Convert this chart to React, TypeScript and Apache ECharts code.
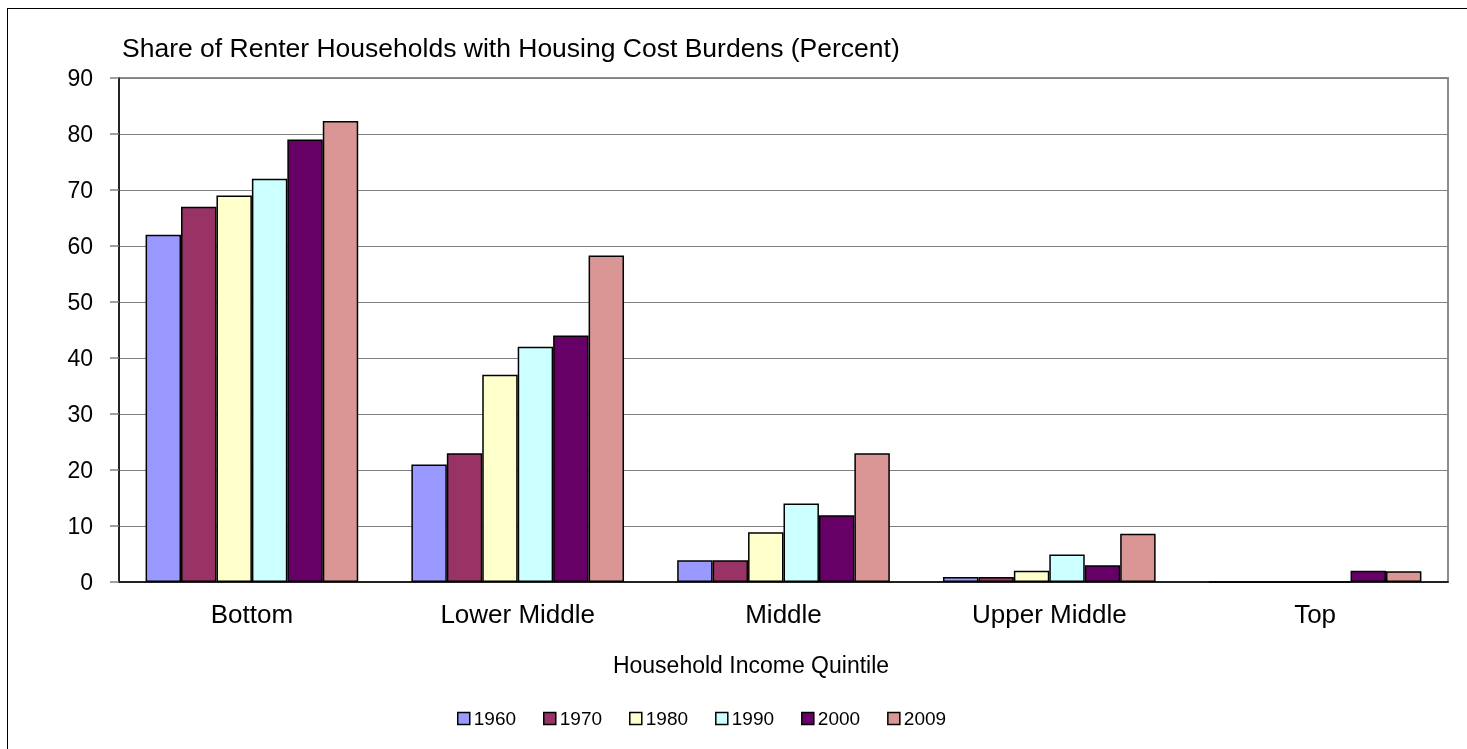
import React, { useEffect, useRef } from 'react';
import * as echarts from 'echarts';

const categories = ['Bottom', 'Lower Middle', 'Middle', 'Upper Middle', 'Top'];
const years = ['1960', '1970', '1980', '1990', '2000', '2009'];
const colors = ['#9999FF', '#993366', '#FFFFCC', '#CCFFFF', '#660066', '#D99694'];

const v1960 = [62, 21, 3.9, 0.9, 0];
const v1970 = [67, 23, 3.9, 0.9, 0];
const v1980 = [69, 37, 8.9, 2, 0];
const v1990 = [72, 42, 14, 4.9, 0];
const v2000 = [79, 44, 11.9, 3, 2];
const v2009 = [82.3, 58.3, 23, 8.6, 1.9];

const yMin = 0;
const yMax = 90;
const yStep = 10;

const FONT = 'Arial, "Liberation Sans", sans-serif';

const App = () => {
  const chartRef = useRef(null);

  useEffect(() => {
    const chart = echarts.init(chartRef.current, null, { renderer: 'svg' });
    const values = [v1960, v1970, v1980, v1990, v2000, v2009];

    const option = {
      animation: false,
      textStyle: { fontFamily: FONT, color: '#000' },
      title: {
        text: 'Share of Renter Households with Housing Cost Burdens (Percent)',
        left: 114,
        top: 25,
        padding: 0,
        textStyle: { fontFamily: FONT, fontSize: 26.5, fontWeight: 'normal', color: '#000' },
      },
      legend: {
        data: years,
        left: 444,
        top: 695,
        itemWidth: 12,
        itemHeight: 12,
        itemGap: 27,
        icon: 'rect',
        textStyle: { fontFamily: FONT, fontSize: 19, color: '#000', padding: [0, 0, 0, -1] },
        itemStyle: { borderColor: '#000', borderWidth: 1.5 },
      },
      grid: {
        left: 111,
        top: 69,
        width: 1329,
        height: 504,
        show: true,
        borderColor: '#8c8c8c',
        borderWidth: 2,
        backgroundColor: 'transparent',
      },
      xAxis: {
        type: 'category',
        data: categories,
        name: 'Household Income Quintile',
        nameLocation: 'middle',
        nameGap: 71,
        nameTextStyle: { fontFamily: FONT, fontSize: 23, color: '#000', padding: [0, 65, 0, 0] },
        axisLine: { lineStyle: { color: '#000', width: 1.5 } },
        axisTick: { length: 8, lineStyle: { color: '#808080', width: 1.5 } },
        axisLabel: { fontFamily: FONT, fontSize: 26, color: '#000', margin: 19 },
      },
      yAxis: {
        type: 'value',
        min: yMin,
        max: yMax,
        interval: yStep,
        axisLine: { show: true, lineStyle: { color: '#000', width: 1.5 } },
        axisTick: { show: true, length: 9, lineStyle: { color: '#808080', width: 1.5 } },
        axisLabel: { fontFamily: FONT, fontSize: 23, color: '#000', margin: 26 },
        splitLine: { lineStyle: { color: '#808080', width: 1 } },
      },
      series: years.map((y, i) => ({
        name: y,
        type: 'bar',
        data: values[i],
        barGap: '0%',
        barCategoryGap: '20%',
        itemStyle: { color: colors[i], borderColor: '#000', borderWidth: 1.5 },
      })),
    };

    chart.setOption(option);
    return () => {
      chart.dispose();
    };
  }, []);

  return (
    <div
      style={{
        position: 'fixed',
        left: 7,
        top: 8,
        width: 1460,
        height: 741,
        overflow: 'hidden',
        borderTop: '1px solid #000',
        borderLeft: '1px solid #000',
      }}
    >
      <div ref={chartRef} style={{ width: 1490, height: 760 }} />
    </div>
  );
};

export default App;
